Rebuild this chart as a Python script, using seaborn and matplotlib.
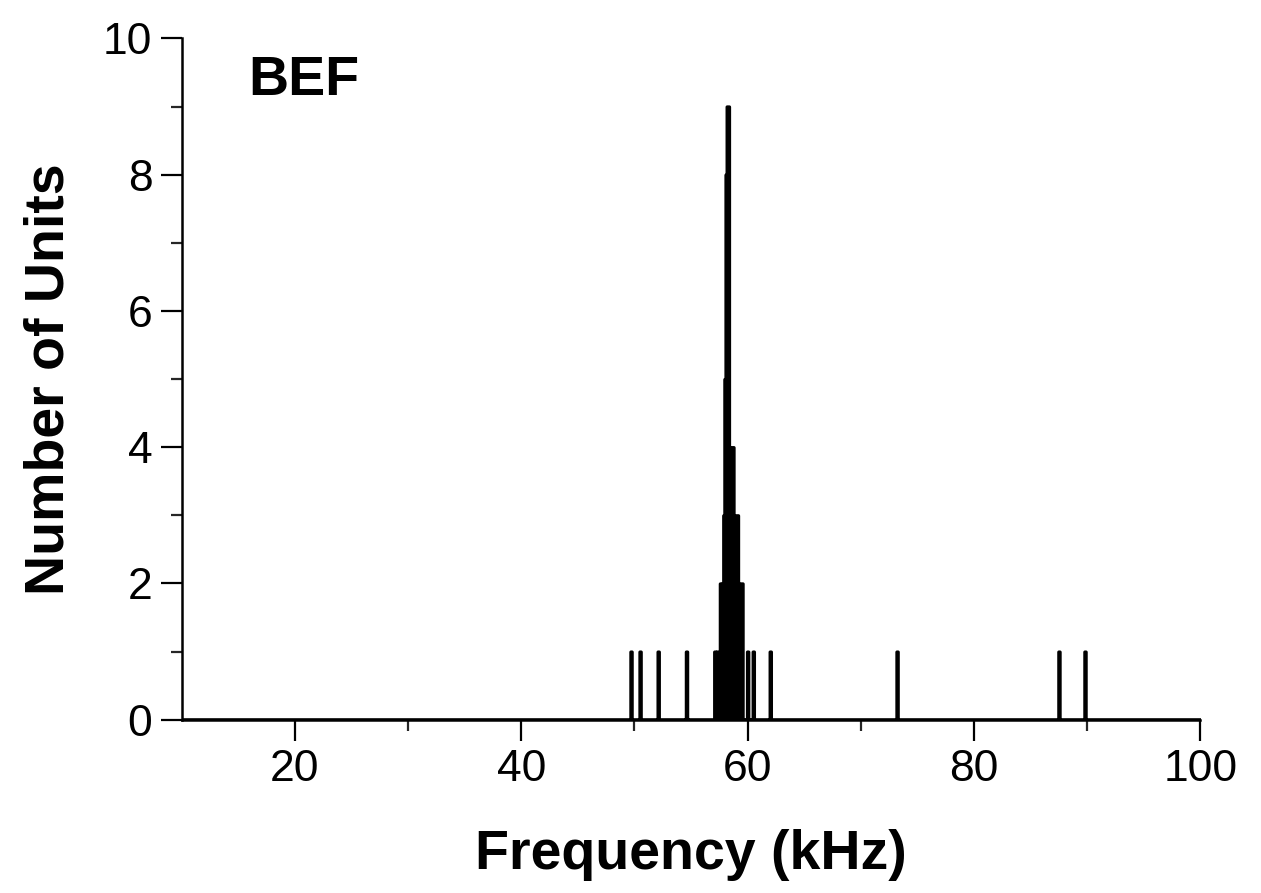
import pandas as pd
import matplotlib
matplotlib.use("Agg")
import matplotlib.pyplot as plt
import seaborn as sns
from matplotlib.ticker import MultipleLocator, FixedLocator

# best frequency of each unit bin (kHz) and number of units in that bin
freq_khz = [49.7, 50.5, 52.1, 54.6, 57.1, 57.3, 57.6, 57.8, 57.9, 58.0,
            58.1, 58.2, 58.3, 58.4, 58.5, 58.6, 58.7, 58.8, 58.9, 59.0,
            59.1, 59.2, 59.3, 59.4, 59.5, 60.0, 60.5, 62.0, 73.2, 87.5, 89.8]
n_units = [1, 1, 1, 1, 1, 1, 2, 2, 3, 5,
           8, 9, 9, 4, 4, 4, 4, 3, 3, 3,
           3, 2, 2, 2, 2, 1, 1, 1, 1, 1, 1]
panel_label = "BEF"

data = pd.DataFrame({"freq": freq_khz, "units": n_units})

sns.set_style("ticks")
plt.rcParams["font.family"] = ["Liberation Sans", "DejaVu Sans"]
plt.rcParams["text.color"] = "black"
plt.rcParams["axes.labelcolor"] = "black"

fig = plt.figure(figsize=(12.61, 8.93), dpi=100)
ax = fig.add_axes([0.144, 0.194, 0.808, 0.763])

sns.histplot(data=data, x="freq", weights="units", binwidth=0.1,
             binrange=(9.95, 100.05), element="step", fill=True,
             color="black", alpha=1, linewidth=2.4, edgecolor="black", ax=ax)

ax.set_xlim(10, 100)
ax.set_ylim(0, 10)
ax.xaxis.set_major_locator(MultipleLocator(20))
ax.xaxis.set_minor_locator(FixedLocator([30, 50, 70, 90]))
ax.yaxis.set_major_locator(MultipleLocator(2))
ax.yaxis.set_minor_locator(MultipleLocator(1))

for side in ["top", "right"]:
    ax.spines[side].set_visible(False)
for side in ["left", "bottom"]:
    ax.spines[side].set_linewidth(1.8)
    ax.spines[side].set_color("black")

ax.tick_params(axis="both", which="major", direction="out", length=15,
               width=1.6, labelsize=32, colors="black", pad=6)
ax.tick_params(axis="both", which="minor", direction="out", length=8,
               width=1.6)

ax.set_xlabel("Frequency (kHz)", fontsize=40, fontweight="bold", labelpad=28)
ax.set_ylabel("Number of Units", fontsize=40, fontweight="bold", labelpad=20)

ax.text(0.065, 0.975, panel_label, transform=ax.transAxes, fontsize=40,
        fontweight="bold", ha="left", va="top")

fig.savefig("out.png", dpi=100)
